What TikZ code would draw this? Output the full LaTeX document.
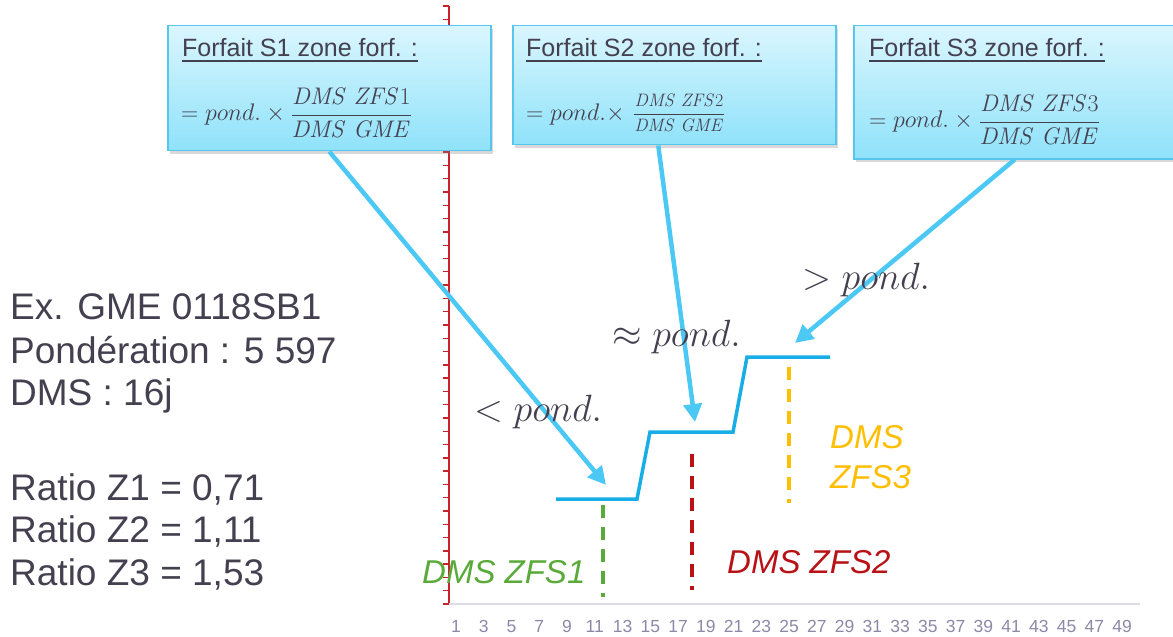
\documentclass[tikz,border=0pt]{standalone}
\usepackage{fix-cm}
\usepackage{amsmath}
\usepackage[no-math]{fontspec}
\setmainfont{Liberation Sans}
\usetikzlibrary{positioning,arrows.meta,shadows}

\definecolor{boxtop}{HTML}{DAF6FE}
\definecolor{boxbot}{HTML}{8FE2FA}
\definecolor{boxline}{HTML}{56C6EF}
\definecolor{arrcyan}{HTML}{4CC8F4}
\definecolor{stepblue}{HTML}{17ADE6}
\definecolor{txtgray}{HTML}{45404F}
\definecolor{axred}{HTML}{C8232C}
\definecolor{numgray}{HTML}{8D88A6}
\definecolor{basegray}{HTML}{DDDCE8}
\definecolor{zfsgreen}{HTML}{5AAA3A}
\definecolor{zfsred}{HTML}{B81217}
\definecolor{zfsorange}{HTML}{FFBE00}

\begin{document}
\begin{tikzpicture}[
        x=1bp, y=-1bp,
        forfbox/.style={
            rectangle,
            draw=boxline,
            line width=1.5bp,
            top color=boxtop,
            bottom color=boxbot,
            anchor=north west,
            inner sep=0pt,
            drop shadow={shadow xshift=2bp, shadow yshift=-3bp, opacity=.3}
        },
        ttl/.style={anchor=base west, inner sep=0pt, text=txtgray,
            font=\fontsize{25bp}{30bp}\selectfont},
        ulin/.style={txtgray, line width=1.2bp},
        frm/.style={anchor=base west, inner sep=0pt, text=txtgray,
            font=\fontsize{24bp}{29bp}\selectfont},
        frmsmall/.style={anchor=base west, inner sep=0pt, text=txtgray,
            font=\fontsize{18bp}{22bp}\selectfont},
        pondlbl/.style={anchor=base west, inner sep=0pt, text=txtgray,
            font=\fontsize{38bp}{44bp}\selectfont},
        info/.style={anchor=base west, inner sep=0pt, text=txtgray,
            font=\fontsize{37bp}{44bp}\selectfont},
        zfs/.style={anchor=base west, inner sep=0pt, align=left,
            font=\fontsize{33bp}{40bp}\selectfont\itshape},
        num/.style={anchor=base, inner sep=0pt, text=numgray,
            font=\fontsize{17.5bp}{21bp}\selectfont},
        ptr/.style={-{Triangle[length=18bp,width=18bp]}, arrcyan, line width=4.5bp},
        stepline/.style={stepblue, line width=3.5bp},
        dms/.style={line width=4bp, dash pattern=on 13bp off 9bp},
    ]

    \useasboundingbox (0,0) rectangle (1173,637);

    \def\axx{449}
    \def\axtop{6}
    \def\axbot{604}

    % red axis
    \draw[axred, line width=2bp] (\axx,\axtop) -- (\axx,\axbot);
    \foreach \i in {0,...,45}{
        \draw[axred, line width=1.4bp] ({\axx-6},{\axtop+\i*13.29}) -- (\axx,{\axtop+\i*13.29});
    }
    \draw[basegray, line width=1.2bp] (\axx,\axbot) -- (1140,\axbot);

    \foreach \n [count=\k from 0] in {1,3,...,49}{
        \node[num] (n\n) at ({456+\k*27.75},632) {\n};
    }

    % boxes
    \node[forfbox, minimum width=323bp, minimum height=125bp] (box1) at (167,25) {};
    \node[forfbox, minimum width=323bp, minimum height=119bp] (box2) at (512,25) {};
    \node[forfbox, minimum width=322bp, minimum height=133bp] (box3) at (853,25) {};

    \node[ttl] (t1) at ([shift={(15,32)}]box1.north west) {Forfait S1 zone forf. :};
    \node[ttl] (t2) at ([shift={(14,32)}]box2.north west) {Forfait S2 zone forf. :};
    \node[ttl] (t3) at ([shift={(16,32)}]box3.north west) {Forfait S3 zone forf. :};
    \foreach \t in {t1,t2,t3}{
        \draw[ulin] ([yshift=-4bp]\t.base west) -- ([yshift=-4bp]\t.base east);
    }

    \node[frm] (f1) at ([shift={(14,96)}]box1.north west)
        {$=pond.\times\dfrac{\mathit{DMS\ ZFS}1}{\mathit{DMS\ GME}}$};
    \node[frm] (f2) at ([shift={(14,96)}]box2.north west) {$=pond.\times$};
    \node[frmsmall] (f2b) at ([shift={(8,-2)}]f2.base east)
        {$\dfrac{\mathit{DMS\ ZFS}2}{\mathit{DMS\ GME}}$};
    \node[frm] (f3) at ([shift={(16,103)}]box3.north west)
        {$=pond.\times\dfrac{\mathit{DMS\ ZFS}3}{\mathit{DMS\ GME}}$};

    % steps
    \draw[stepline] (556,499) -- (637,499) -- (650,432) -- (733,432) -- (747,357) -- (830,357);

    \draw[dms, zfsgreen] (603,505) -- (603,597);
    \draw[dms, zfsred] (692,454) -- (692,590);
    \draw[dms, zfsorange] (789,367) -- (789,503);

    \coordinate (tip1) at (606,485);
    \coordinate (tip2) at (695,422);
    \coordinate (tip3) at (795,343);
    \draw[ptr] (box1.south) -- (tip1);
    \draw[ptr] ([xshift=-16bp]box2.south) -- (tip2);
    \draw[ptr] (box3.south) -- (tip3);

    \node[pondlbl] (lt) at (474,421) {$<pond.$};
    \node[pondlbl] (ap) at (612,347) {$\approx pond.$};
    \node[pondlbl] (gt) at (802,290) {$>pond.$};

    \node[zfs, text=zfsgreen] (z1) at (422,583) {DMS ZFS1};
    \node[zfs, text=zfsred] (z2) at (727,573) {DMS ZFS2};
    \node[zfs, text=zfsorange] (z3) at (830,488) {DMS\\ZFS3};

    % left text
    \foreach \t/\yy [count=\k] in {Ex. GME 0118SB1/320, Pondération : 5 597/363,
        DMS : 16j/405, Ratio Z1 = 0{,}71/500, Ratio Z2 = 1{,}11/542, Ratio Z3 = 1{,}53/585}{
        \node[info] (info\k) at (10,\yy) {\t};
    }

\end{tikzpicture}
\end{document}
